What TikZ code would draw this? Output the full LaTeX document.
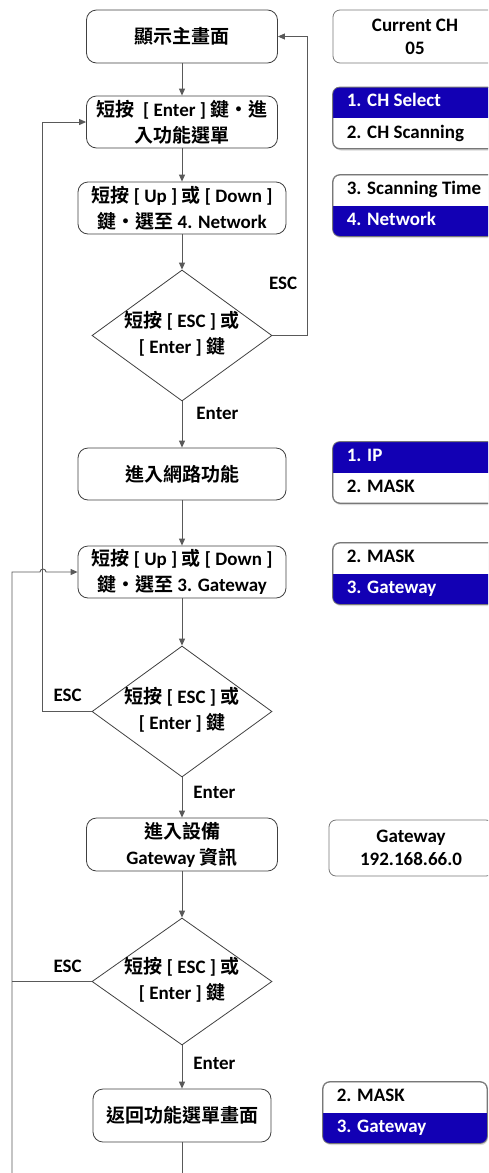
\documentclass[tikz,border=0pt]{standalone}
\usepackage{fontspec}
\setmainfont{Carlito}
\newfontfamily\cjk{Noto Sans CJK TC}[BoldFont={Noto Sans CJK TC Bold}, Language=Chinese Traditional]
\newcommand{\zh}[1]{{\cjk #1}}
\usetikzlibrary{calc}
\usetikzlibrary{positioning}
\usetikzlibrary{shapes.geometric}
\usetikzlibrary{arrows.meta}
\usetikzlibrary{shadows}
\definecolor{menublue}{RGB}{18,0,180}
\definecolor{flowline}{RGB}{89,89,89}
\definecolor{boxline}{RGB}{64,64,64}
\definecolor{panelline}{RGB}{120,120,120}
\tikzstyle{stepnode} = [draw=boxline, line width=0.8pt, rounded corners=10pt, fill=white, align=center, inner sep=0pt, font=\fontsize{19pt}{26pt}\selectfont\bfseries]
\tikzstyle{asknode} = [draw=boxline, line width=0.8pt, diamond, minimum width=180pt, minimum height=131pt, inner sep=0pt, font=\fontsize{19pt}{26pt}\selectfont\bfseries]
\tikzstyle{panelnode} = [draw=panelline, line width=0.8pt, rounded corners=7pt, fill=white, minimum width=164pt, align=center, font=\fontsize{19pt}{23pt}\selectfont\bfseries]
\tikzstyle{itemnode} = [anchor=west, inner sep=0pt, text height=13pt, text depth=4pt, font=\fontsize{19pt}{23pt}\selectfont\bfseries]
\tikzstyle{keynode} = [inner sep=0pt, font=\fontsize{19pt}{23pt}\selectfont\bfseries]
\tikzstyle{flow} = [draw=flowline, line width=0.9pt, -{Triangle[length=7pt,width=6pt]}]
\tikzstyle{plainline} = [draw=flowline, line width=0.9pt]
% two-row menu: name, centre, top text, top colour, bottom text, bottom colour, blue half
\newcommand{\menupanel}[7]{%
  \node[panelnode, minimum height=61pt, drop shadow={shadow xshift=1pt, shadow yshift=-2pt, opacity=0.3}] (#1) at (#2) {};
  \begin{scope}
    \clip[rounded corners=7pt] (#1.north west) rectangle (#1.south east);
    \fill[menublue] (#1.#7 west) rectangle (#1.east);
  \end{scope}
  \draw[panelline, line width=0.8pt, rounded corners=7pt] (#1.north west) rectangle (#1.south east);
  \node[itemnode, text=#4] (#1-top) at ($(#1.north west)+(14pt,-15pt)$) {#3};
  \node[itemnode, text=#6] (#1-bot) at ($(#1.south west)+(14pt,15pt)$) {#5};
}
\newcommand{\asktext}{\makebox[0pt]{\begin{tabular}{@{}c@{}}\zh{短按} [ ESC ] \zh{或}\\{}[ Enter ] \zh{鍵}\end{tabular}}}

\begin{document}
\begin{tikzpicture}[x=1pt, y=1pt]
\useasboundingbox (0,0) rectangle (488,-1173);
\clip (0,0) rectangle (488,-1173);

% flow column
\node[stepnode, minimum width=191pt, minimum height=53pt] (main) at (182,-36.5) {\zh{顯示主畫面}};
\node[stepnode, minimum width=191pt, minimum height=52pt] (enter) at (182,-122) {\zh{短按}\ \ [ Enter ] \zh{鍵‧進}\\\zh{入功能選單}};
\node[stepnode, minimum width=208pt, minimum height=52pt] (pick) at (182,-208) {\zh{短按} [ Up ] \zh{或} [ Down ]\\\zh{鍵‧選至} 4. Network};
\node[asknode] (ask1) at (182,-335.5) {\asktext};
\node[stepnode, minimum width=208pt, minimum height=52pt] (net) at (182,-474) {\zh{進入網路功能}};
\node[stepnode, minimum width=208pt, minimum height=52pt] (pickgw) at (182,-572) {\zh{短按} [ Up ] \zh{或} [ Down ]\\\zh{鍵‧選至} 3. Gateway};
\node[asknode] (ask2) at (182,-711.5) {\asktext};
\node[stepnode, minimum width=191pt, minimum height=53pt] (info) at (182,-844.5) {\zh{進入設備}\\Gateway \zh{資訊}};
\node[asknode, minimum height=127pt] (ask3) at (182,-981.5) {\asktext};
\node[stepnode, minimum width=178pt, minimum height=53pt] (back) at (182,-1115.5) {\zh{返回功能選單畫面}};

% connectors
\draw[flow] (main) -- (enter);
\draw[flow] (enter) -- (pick);
\draw[flow] (pick) -- (ask1);
\draw[flow] (ask1) -- node[keynode, pos=0.26, anchor=west, xshift=14pt] (enter1) {Enter} (net);
\draw[flow] (net) -- (pickgw);
\draw[flow] (pickgw) -- (ask2);
\draw[flow] (ask2) -- node[keynode, pos=0.37, anchor=west, xshift=11pt] (enter2) {Enter} (info);
\draw[flow] (info) -- (ask3);
\draw[flow] (ask3) -- node[keynode, pos=0.41, anchor=west, xshift=11pt] (enter3) {Enter} (back);

\coordinate (esc1) at ($(ask1.east)+(35,0)$);
\draw[flow] (ask1.east) -- (esc1) |- (main.east);
\node[keynode, anchor=east] (esc1lbl) at ($(esc1)+(-10,52)$) {ESC};

\coordinate (esc2) at ($(ask2.west)+(-49,0)$);
\draw[flow] (ask2.west) -- (esc2) |- (enter.west);
\node[keynode] (esc2lbl) at ($(ask2.west)+(-24,16)$) {ESC};

\coordinate (loopbot) at (12,-1180);
\coordinate (jump) at (43,-572);
\coordinate (backbot) at (182,-1180);
\draw[plainline] (back) -- (backbot);
\draw[flow] (loopbot) |- ($(jump)+(-3,0)$) arc[start angle=180, end angle=0, radius=3pt] -- (pickgw.west);
\draw[plainline] (ask3.west) -- (ask3.west -| loopbot);
\node[keynode] (esc3lbl) at ($(ask3.west)+(-24,15)$) {ESC};

% display panels
\node[panelnode, minimum height=53pt] (curch) at (415,-36.5) {Current CH\\05};
\menupanel{chmenu}{415,-118}{1. CH Select}{white}{2. CH Scanning}{black}{north}
\menupanel{netmenu}{415,-205.5}{3. Scanning Time}{black}{4. Network}{white}{south}
\menupanel{ipmenu}{415,-472.5}{1. IP}{white}{2. MASK}{black}{north}
\menupanel{gwmenu}{415,-573.5}{2. MASK}{black}{3. Gateway}{white}{south}
\node[panelnode, minimum height=56pt] (gwinfo) at (411,-848) {Gateway\\192.168.66.0};
\menupanel{backmenu}{405,-1112.5}{2. MASK}{black}{3. Gateway}{white}{south}
\end{tikzpicture}
\end{document}
